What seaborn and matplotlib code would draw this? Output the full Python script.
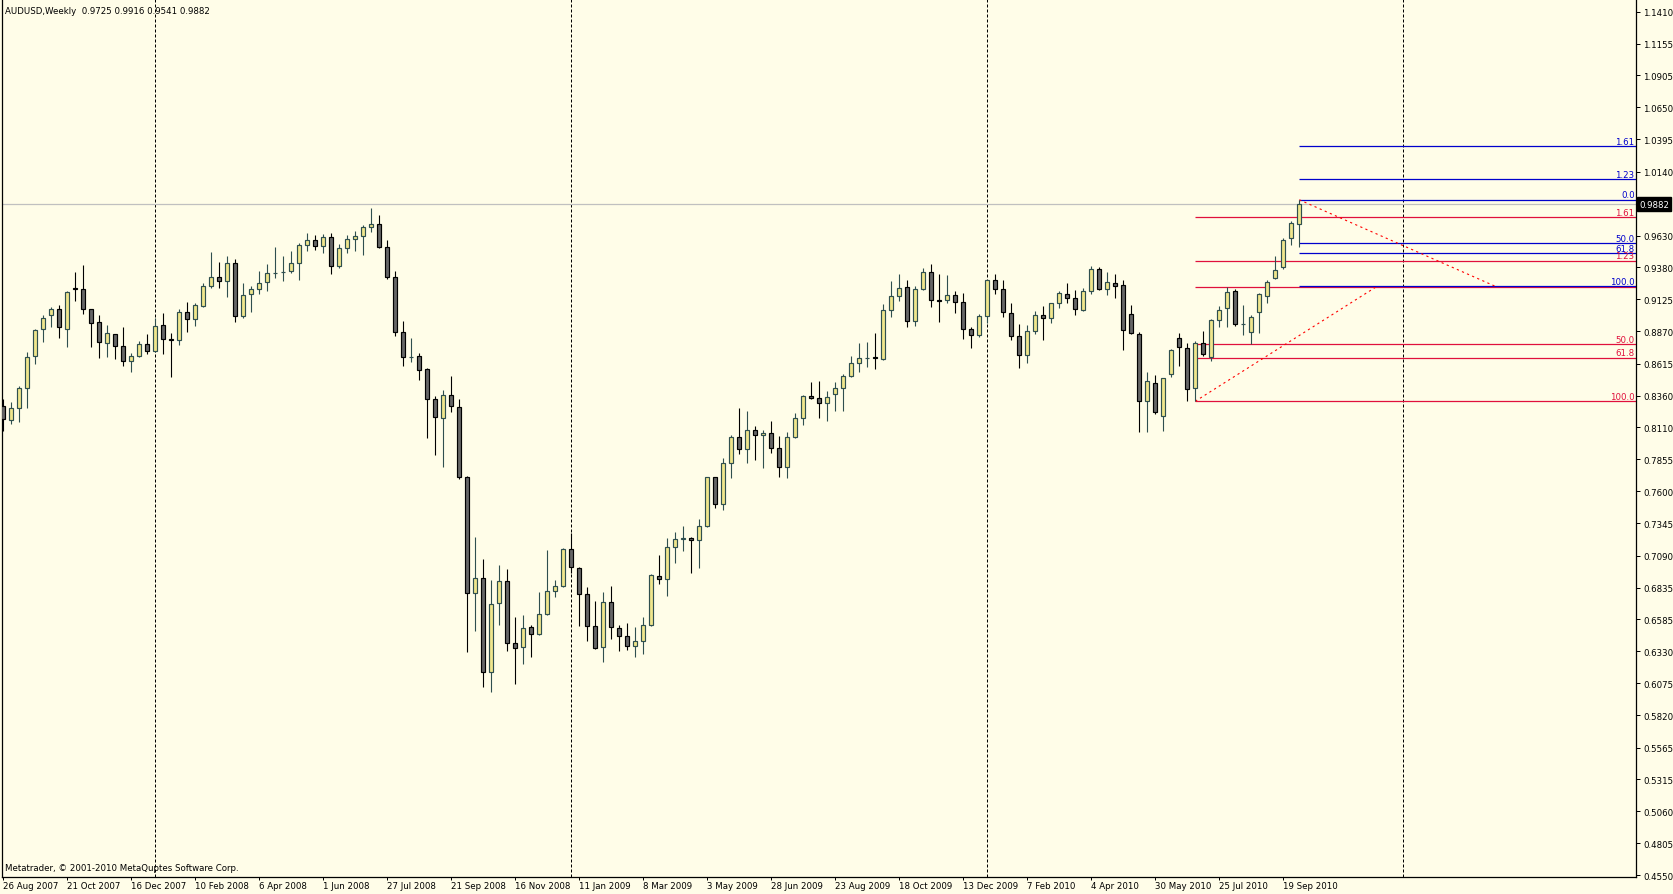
import numpy as np
import pandas as pd
import matplotlib
matplotlib.use("Agg")
import matplotlib.pyplot as plt
import seaborn as sns

# ---------------- data (AUDUSD weekly) ----------------
opens = [0.8276, 0.8167, 0.8260, 0.8418, 0.8673, 0.8887, 0.8998, 0.9046, 0.8887, 0.9212,
         0.9205, 0.9046, 0.8943, 0.8776, 0.8847, 0.8752, 0.8633, 0.8673, 0.8768, 0.8712,
         0.8922, 0.8808, 0.8800, 0.9022, 0.8967, 0.9075, 0.9229, 0.9300, 0.9268, 0.9411,
         0.8990, 0.9165, 0.9205, 0.9261, 0.9332, 0.9340, 0.9348, 0.9411, 0.9554, 0.9594,
         0.9546, 0.9618, 0.9387, 0.9530, 0.9602, 0.9626, 0.9697, 0.9721, 0.9538, 0.9300,
         0.8863, 0.8668, 0.8673, 0.8569, 0.8331, 0.8180, 0.8363, 0.8268, 0.7712, 0.6790,
         0.6909, 0.6163, 0.6711, 0.6885, 0.6393, 0.6361, 0.6520, 0.6465, 0.6623, 0.6806,
         0.6846, 0.7140, 0.6989, 0.6782, 0.6528, 0.6361, 0.6719, 0.6512, 0.6449, 0.6369,
         0.6409, 0.6536, 0.6925, 0.6901, 0.7156, 0.7224, 0.7227, 0.7211, 0.7322, 0.7712,
         0.7497, 0.7823, 0.8029, 0.7934, 0.8085, 0.8045, 0.8061, 0.7942, 0.7791, 0.8029,
         0.8180, 0.8355, 0.8339, 0.8299, 0.8371, 0.8418, 0.8514, 0.8617, 0.8661, 0.8665,
         0.8649, 0.9038, 0.9149, 0.9221, 0.8951, 0.9205, 0.9340, 0.9119, 0.9117, 0.9157,
         0.9102, 0.8887, 0.8839, 0.8990, 0.9276, 0.9205, 0.9014, 0.8831, 0.8681, 0.8871,
         0.8998, 0.8974, 0.9094, 0.9165, 0.9133, 0.9038, 0.9189, 0.9364, 0.9205, 0.9253,
         0.9237, 0.9006, 0.8847, 0.8315, 0.8458, 0.8196, 0.8530, 0.8816, 0.8736, 0.8418,
         0.8776, 0.8665, 0.8958, 0.9054, 0.9189, 0.8930, 0.8863, 0.9022, 0.9149, 0.9292,
         0.9380, 0.9610, 0.9725]
highs = [0.8334, 0.8307, 0.8434, 0.8704, 0.8890, 0.9001, 0.9062, 0.9080, 0.9192, 0.9340,
         0.9398, 0.9050, 0.9001, 0.8922, 0.8850, 0.8906, 0.8699, 0.8792, 0.8850, 0.8977,
         0.9017, 0.8858, 0.9049, 0.9104, 0.9096, 0.9255, 0.9499, 0.9419, 0.9467, 0.9443,
         0.9255, 0.9229, 0.9348, 0.9403, 0.9538, 0.9467, 0.9507, 0.9570, 0.9650, 0.9634,
         0.9642, 0.9650, 0.9562, 0.9634, 0.9666, 0.9713, 0.9851, 0.9793, 0.9597, 0.9350,
         0.8953, 0.8818, 0.8699, 0.8577, 0.8355, 0.8402, 0.8514, 0.8331, 0.7720, 0.7238,
         0.7060, 0.6896, 0.7015, 0.6981, 0.6602, 0.6616, 0.6539, 0.6798, 0.7134, 0.6896,
         0.7150, 0.7269, 0.6997, 0.6838, 0.6727, 0.6798, 0.6846, 0.6536, 0.6552, 0.6520,
         0.6600, 0.6941, 0.7092, 0.7227, 0.7275, 0.7322, 0.7235, 0.7378, 0.7715, 0.7715,
         0.7863, 0.8045, 0.8260, 0.8236, 0.8117, 0.8085, 0.8156, 0.8037, 0.8069, 0.8220,
         0.8363, 0.8466, 0.8474, 0.8395, 0.8466, 0.8530, 0.8673, 0.8776, 0.8784, 0.8855,
         0.9086, 0.9268, 0.9324, 0.9276, 0.9229, 0.9372, 0.9403, 0.9324, 0.9316, 0.9189,
         0.9173, 0.8903, 0.9006, 0.9280, 0.9324, 0.9276, 0.9094, 0.8927, 0.8919, 0.9030,
         0.9070, 0.9097, 0.9189, 0.9253, 0.9197, 0.9213, 0.9388, 0.9380, 0.9340, 0.9324,
         0.9279, 0.9078, 0.8863, 0.8546, 0.8522, 0.8500, 0.8728, 0.8855, 0.8776, 0.8792,
         0.8871, 0.8967, 0.9070, 0.9221, 0.9205, 0.9078, 0.8998, 0.9173, 0.9276, 0.9467,
         0.9610, 0.9745, 0.9916]
lows = [0.8080, 0.8136, 0.8148, 0.8265, 0.8609, 0.8789, 0.8908, 0.8816, 0.8749, 0.9109,
        0.9012, 0.8749, 0.8657, 0.8665, 0.8652, 0.8599, 0.8551, 0.8668, 0.8694, 0.8708,
        0.8694, 0.8511, 0.8765, 0.8869, 0.8916, 0.9067, 0.9213, 0.9218, 0.9147, 0.8948,
        0.8974, 0.9028, 0.9170, 0.9194, 0.9292, 0.9274, 0.9337, 0.9282, 0.9507, 0.9515,
        0.9491, 0.9324, 0.9372, 0.9491, 0.9507, 0.9475, 0.9658, 0.9530, 0.9287, 0.8831,
        0.8593, 0.8625, 0.8487, 0.8027, 0.7892, 0.7796, 0.8233, 0.7696, 0.6327, 0.6494,
        0.6049, 0.6004, 0.6541, 0.6335, 0.6073, 0.6226, 0.6287, 0.6457, 0.6620, 0.6758,
        0.6838, 0.6953, 0.6533, 0.6414, 0.6345, 0.6242, 0.6425, 0.6330, 0.6337, 0.6282,
        0.6306, 0.6533, 0.6862, 0.6766, 0.7029, 0.7129, 0.6949, 0.6989, 0.7314, 0.7465,
        0.7450, 0.7704, 0.7894, 0.7823, 0.7847, 0.7783, 0.7902, 0.7717, 0.7704, 0.8021,
        0.8125, 0.8331, 0.8180, 0.8156, 0.8236, 0.8236, 0.8506, 0.8546, 0.8585, 0.8569,
        0.8641, 0.8982, 0.9110, 0.8903, 0.8911, 0.9197, 0.9062, 0.8943, 0.9094, 0.9014,
        0.8808, 0.8736, 0.8824, 0.8935, 0.9165, 0.8982, 0.8800, 0.8577, 0.8617, 0.8847,
        0.8800, 0.8935, 0.9054, 0.9094, 0.8998, 0.9030, 0.9165, 0.9203, 0.9157, 0.9133,
        0.8719, 0.8847, 0.8069, 0.8069, 0.8212, 0.8077, 0.8506, 0.8593, 0.8315, 0.8315,
        0.8678, 0.8633, 0.8903, 0.8903, 0.8911, 0.8839, 0.8768, 0.8855, 0.9094, 0.9284,
        0.9364, 0.9554, 0.9541]
closes = [0.8175, 0.8262, 0.8418, 0.8665, 0.8882, 0.8974, 0.9049, 0.8903, 0.9181, 0.9207,
          0.9046, 0.8935, 0.8784, 0.8855, 0.8752, 0.8633, 0.8673, 0.8768, 0.8712, 0.8914,
          0.8808, 0.8802, 0.9022, 0.8967, 0.9080, 0.9229, 0.9300, 0.9268, 0.9411, 0.8990,
          0.9157, 0.9205, 0.9253, 0.9332, 0.9335, 0.9343, 0.9411, 0.9554, 0.9594, 0.9546,
          0.9618, 0.9387, 0.9530, 0.9602, 0.9626, 0.9697, 0.9721, 0.9538, 0.9300, 0.8863,
          0.8665, 0.8670, 0.8561, 0.8331, 0.8188, 0.8363, 0.8275, 0.7712, 0.6790, 0.6909,
          0.6163, 0.6703, 0.6885, 0.6393, 0.6353, 0.6512, 0.6465, 0.6623, 0.6806, 0.6846,
          0.7140, 0.6997, 0.6782, 0.6528, 0.6353, 0.6719, 0.6520, 0.6449, 0.6369, 0.6409,
          0.6536, 0.6933, 0.6901, 0.7156, 0.7219, 0.7226, 0.7211, 0.7322, 0.7712, 0.7497,
          0.7823, 0.8029, 0.7934, 0.8085, 0.8045, 0.8061, 0.7942, 0.7791, 0.8029, 0.8180,
          0.8358, 0.8339, 0.8299, 0.8347, 0.8418, 0.8514, 0.8617, 0.8657, 0.8663, 0.8660,
          0.9038, 0.9149, 0.9213, 0.8951, 0.9205, 0.9340, 0.9117, 0.9115, 0.9157, 0.9102,
          0.8887, 0.8839, 0.8990, 0.9276, 0.9205, 0.9022, 0.8831, 0.8681, 0.8871, 0.8998,
          0.8974, 0.9094, 0.9173, 0.9133, 0.9046, 0.9189, 0.9364, 0.9205, 0.9261, 0.9229,
          0.8879, 0.8855, 0.8315, 0.8474, 0.8228, 0.8498, 0.8720, 0.8744, 0.8410, 0.8776,
          0.8689, 0.8958, 0.9038, 0.9181, 0.8927, 0.8933, 0.8982, 0.9165, 0.9261, 0.9356,
          0.9594, 0.9729, 0.9882]

date_labels = ["26 Aug 2007", "21 Oct 2007", "16 Dec 2007", "10 Feb 2008", "6 Apr 2008",
               "1 Jun 2008", "27 Jul 2008", "21 Sep 2008", "16 Nov 2008", "11 Jan 2009",
               "8 Mar 2009", "3 May 2009", "28 Jun 2009", "23 Aug 2009", "18 Oct 2009",
               "13 Dec 2009", "7 Feb 2010", "4 Apr 2010", "30 May 2010", "25 Jul 2010",
               "19 Sep 2010"]
date_label_bars = [0, 8, 16, 24, 32, 40, 48, 56, 64, 72, 80, 88, 96, 104, 112, 120,
                   128, 136, 144, 152, 160]

price_ticks = [1.1410, 1.1155, 1.0905, 1.0650, 1.0395, 1.0140, 0.9630, 0.9380, 0.9125,
               0.8870, 0.8615, 0.8360, 0.8110, 0.7855, 0.7600, 0.7345, 0.7090, 0.6835,
               0.6585, 0.6330, 0.6075, 0.5820, 0.5565, 0.5315, 0.5060, 0.4805, 0.4550]

year_separator_bars = [19, 71, 123, 175]
last_price = 0.9882

# Fibonacci objects: (price at "100", price at "0", first bar, second-anchor bar)
fib_ratios = [0.0, 0.382, 0.5, 1.0, 1.236, 1.618]
fib_labels = ["100.0", "61.8", "50.0", "0.0", "1.23", "1.61"]
red_fib = (0.8316, 0.9220, 149, 171.5)
blue_fib = (0.9229, 0.9916, 162, 186.5)

title_text = "AUDUSD,Weekly  0.9725 0.9916 0.9541 0.9882"
footer_text = "Metatrader, \u00a9 2001-2010 MetaQuptes Software Corp."

# ---------------- styling ----------------
W, H = 1674, 895
BG = "#FFFDE8"
sns.set_theme(style="white", rc={"axes.facecolor": BG, "figure.facecolor": BG})
plt.rcParams["font.family"] = ["DejaVu Sans"]
FS = 6.2

df = pd.DataFrame({"open": opens, "high": highs, "low": lows, "close": closes})
df["bar"] = np.arange(len(df))
df["bull"] = df["close"] >= df["open"]

fig = plt.figure(figsize=(W / 100, H / 100), dpi=100)
ax = fig.add_axes([2 / W, (H - 878) / H, (1636 - 2) / W, 878 / H])
ax.set_xlim((2 - 3.3) / 8, (1636 - 3.3) / 8)
ax.set_ylim(1.1410 - (878 - 12.7) / 1259, 1.1410 + 12.7 / 1259)

# year separators
for b in year_separator_bars:
    ax.axvline(b, color="black", lw=0.72, linestyle=(0, (3, 2)), zorder=1)

# bid line
ax.axhline(last_price, color="#C0C0C0", lw=0.9, zorder=1)

# fibonacci levels
def draw_fib(fib, color, skip_labels=()):
    p100, p0, b1, b2 = fib
    for r, lab in zip(fib_ratios, fib_labels):
        lvl = p100 + r * (p0 - p100)
        ax.hlines(lvl, b1, ax.get_xlim()[1], color=color, lw=0.9, zorder=2)
        if lab not in skip_labels:
            ax.annotate(lab, xy=(1, lvl), xycoords=("axes fraction", "data"),
                        xytext=(-1.5, 0.5), textcoords="offset pixels",
                        ha="right", va="bottom", fontsize=FS, color=color, zorder=6)

draw_fib(red_fib, "#E0103C", skip_labels=("0.0",))
draw_fib(blue_fib, "#0000CC")

# diagonal (trend) lines of the Fibonacci objects
for fib in (red_fib, blue_fib):
    p100, p0, b1, b2 = fib
    if fib is red_fib:
        xs, ys = [b1, b2], [p100, p0]
    else:
        xs, ys = [b1, b2], [p0, p100]
    sns.lineplot(x=xs, y=ys, ax=ax, color="#FF0000", lw=0.8,
                 linestyle=(0, (2, 3)), zorder=2, sort=False)

# candles
bull = df[df["bull"]]
bear = df[~df["bull"]]
ax.vlines(bull["bar"], bull["low"], bull["high"], colors="#2F4F4F", lw=0.8, zorder=3)
ax.vlines(bear["bar"], bear["low"], bear["high"], colors="black", lw=0.8, zorder=3)
for sub, fill, edge in ((bull, "#F0E68C", "#2F4F4F"), (bear, "#666666", "black")):
    bottoms = np.minimum(sub["open"], sub["close"])
    heights = np.abs(sub["close"] - sub["open"])
    ax.bar(sub["bar"], heights, bottom=bottoms, width=0.46, color=fill,
           edgecolor=edge, linewidth=0.85, zorder=4)

# axes, ticks
ax.yaxis.tick_right()
ax.set_yticks(price_ticks)
ax.set_yticklabels([f"{p:.4f}" for p in price_ticks], fontsize=FS)
ax.set_xticks(date_label_bars)
ax.set_xticklabels(date_labels, fontsize=FS, ha="left")
ax.tick_params(axis="y", which="both", right=True, left=False, length=3, width=0.72,
               pad=2, colors="black")
ax.tick_params(axis="x", which="both", bottom=True, length=2, width=0.72, pad=1,
               colors="black")
for lab in ax.get_xticklabels():
    lab.set_horizontalalignment("left")
ax.set_xlabel("")
ax.set_ylabel("")
ax.grid(False)
for side in ("left", "right", "bottom"):
    ax.spines[side].set_color("black")
    ax.spines[side].set_linewidth(0.9)
ax.spines["top"].set_visible(False)

# last price box
ax.annotate(f"{last_price:.4f}", xy=(1, last_price), xycoords=("axes fraction", "data"),
            xytext=(3, 0), textcoords="offset pixels", ha="left", va="center",
            fontsize=FS, color="white",
            bbox=dict(boxstyle="square,pad=0.25", fc="black", ec="black"), zorder=7,
            annotation_clip=False)

fig.text(5 / W, 1 - 12 / H, title_text, fontsize=FS, color="black", va="center", ha="left")
fig.text(5 / W, 1 - 869 / H, footer_text, fontsize=FS, color="black", va="center", ha="left")

fig.savefig("out.png", dpi=100, facecolor=BG)
